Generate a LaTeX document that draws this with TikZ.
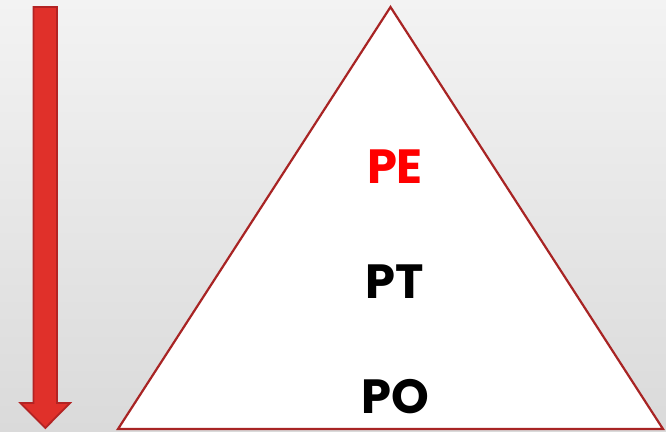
\documentclass[tikz,border=0pt]{standalone}
\usepackage{fontspec}
\setmainfont{Poppins}
\begin{document}
\begin{tikzpicture}[x=1pt,y=-1pt,
  lbl/.style={font=\fontsize{48}{50}\selectfont\bfseries, anchor=base, inner sep=0pt},
  tri/.style={draw=triborder, fill=white, line width=2.2pt, line join=miter},
  arrowshape/.style={fill=arrowred, draw=arrowdark, line width=1.8pt, line join=miter}]
\definecolor{triborder}{HTML}{A82424}
\definecolor{arrowred}{HTML}{E0302A}
\definecolor{arrowdark}{HTML}{B32323}
\definecolor{bgtop}{HTML}{F3F3F3}
\definecolor{bgbot}{HTML}{DADADA}
\shade[top color=bgtop, bottom color=bgbot] (0,0) rectangle (666,431);
\useasboundingbox (0,0) rectangle (666,431);
% arrow
\draw[arrowshape] (33.5,7) -- (57,7) -- (57,403) -- (70,403) -- (45.3,428) -- (20.5,403) -- (33.5,403) -- cycle;
% triangle
\draw[tri] (390.5,7) -- (663,429) -- (118,429) -- cycle;
\node[lbl, text=red] (pe) at (395,183) {PE};
\node[lbl] (pt) at (395,298) {PT};
\node[lbl] (po) at (395,413) {PO};
\end{tikzpicture}
\end{document}
